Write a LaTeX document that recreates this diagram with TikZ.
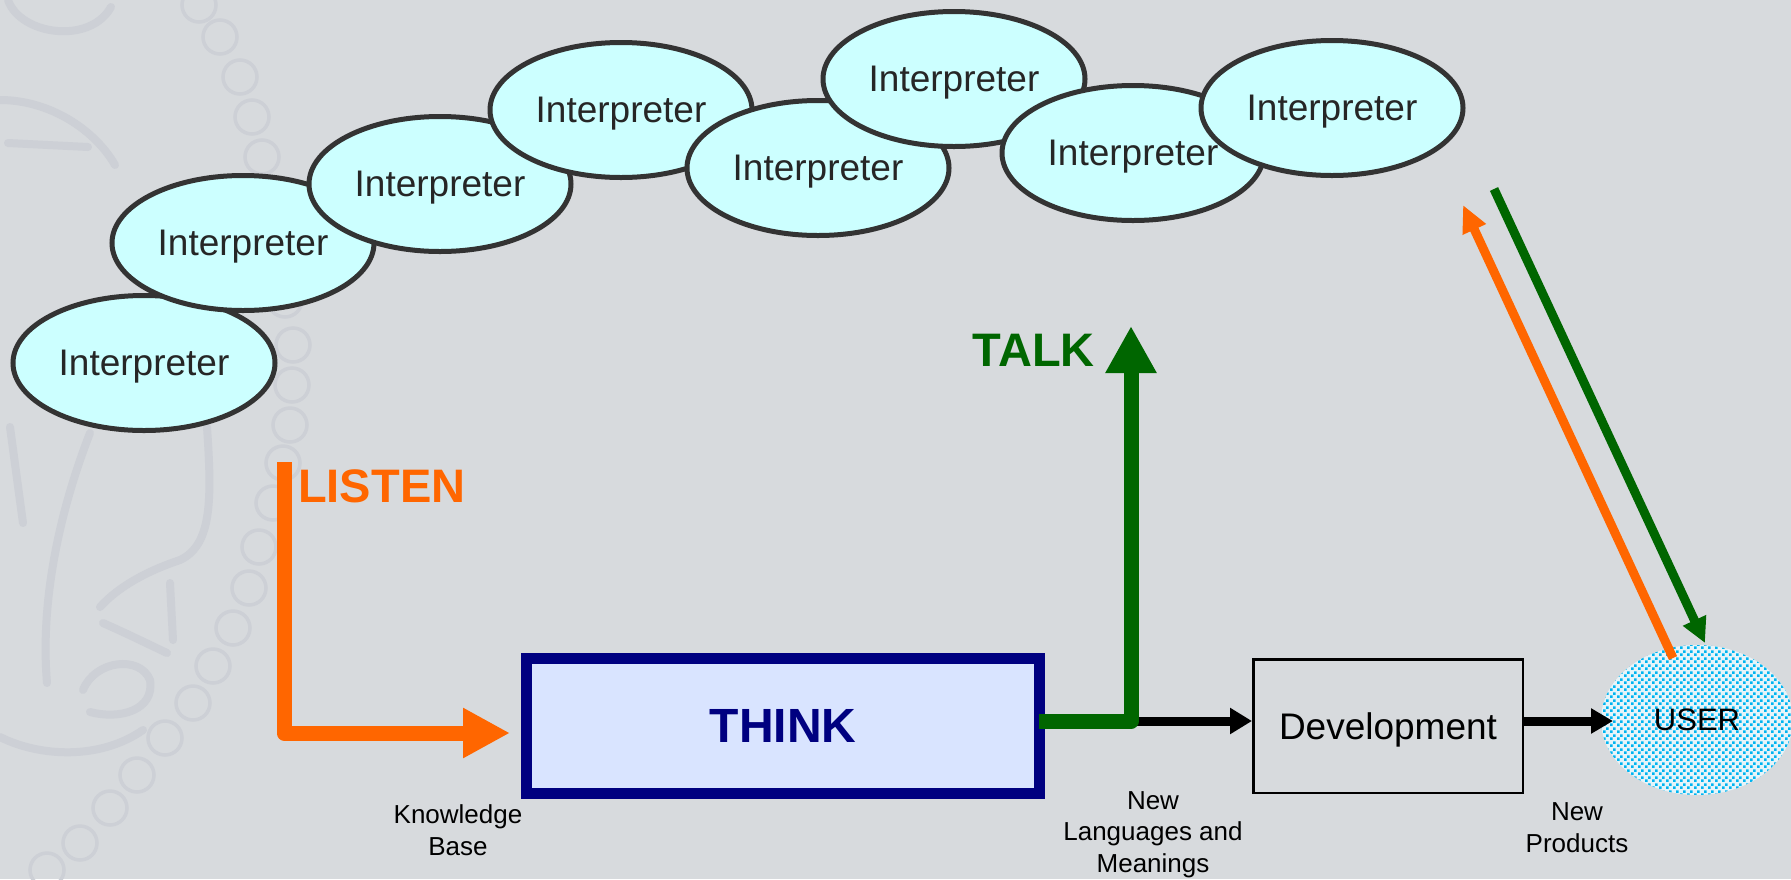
\documentclass[tikz,border=0pt]{standalone}
\usepackage{fontspec}
\setmainfont{Liberation Sans}
\usetikzlibrary{arrows.meta,patterns,shapes.geometric}
\definecolor{bg}{HTML}{D7DADD}
\definecolor{wm}{HTML}{CDD0D6}
\definecolor{ellfill}{HTML}{CCFFFF}
\definecolor{ellline}{HTML}{333333}
\definecolor{thinkfill}{HTML}{D9E4FF}
\definecolor{navy}{HTML}{000080}
\definecolor{orng}{HTML}{FF6600}
\definecolor{grn}{HTML}{006600}
\definecolor{userbg}{HTML}{E6F4F9}
\definecolor{userdot}{HTML}{00B4F0}
\pgfdeclarepatternformonly{userdots}{\pgfqpoint{0pt}{0pt}}{\pgfqpoint{7pt}{7pt}}{\pgfqpoint{7pt}{7pt}}{%
  \pgfpathrectangle{\pgfqpoint{0pt}{0pt}}{\pgfqpoint{3pt}{3pt}}%
  \pgfpathrectangle{\pgfqpoint{3.5pt}{3.5pt}}{\pgfqpoint{3pt}{3pt}}%
  \pgfusepath{fill}}
\begin{document}
\begin{tikzpicture}[x=1pt,y=-1pt,
  interp/.style={ellipse, draw=ellline, line width=5pt, fill=ellfill,
    minimum width=262pt, minimum height=135pt, inner sep=0pt,
    text=black!85, font=\fontsize{37}{40}\selectfont, text depth=0pt},
  wmchain/.style={draw=wm, line width=3.5pt},
  wmhand/.style={draw=wm, line width=8pt, line cap=round},
  small/.style={align=center, inner sep=0pt, font=\fontsize{26}{31.5}\selectfont, anchor=base},
  bigword/.style={inner sep=0pt, font=\fontsize{47}{50}\selectfont\bfseries}]
\useasboundingbox (0,0) rectangle (1791,879);
\fill[bg] (0,0) rectangle (1791,879);
% watermark
\foreach \p in {(47,870),(80,843),(110,808),(137,775),(165,738),(193,703),(213,666),(233,628),(249,588),(259,547),(273,503),(283,463),(290,425),(292,385),(293,345),(285,300),(275,250),(268,200),(262,157),(252,117),(240,77),(220,37),(199,5)}
  \draw[wmchain] \p circle[radius=17];
\draw[wmhand] (47,683) .. controls (40,600) and (60,510) .. (90,433);
\draw[wmhand] (23,523) -- (10,427);
\draw[wmhand] (207,427) .. controls (212,500) and (212,545) .. (180,560) .. controls (150,570) and (120,585) .. (100,607);
\draw[wmhand] (103,623) .. controls (130,635) and (150,645) .. (167,653);
\draw[wmhand] (170,583) -- (173,640);
\draw[wmhand] (83,690) .. controls (95,660) and (140,655) .. (150,680) .. controls (155,710) and (120,720) .. (90,712);
\draw[wmhand] (0,737) .. controls (40,757) and (100,760) .. (143,730);
\draw[wmhand] (8,0) .. controls (20,35) and (90,45) .. (111,7);
\draw[wmhand] (0,100) .. controls (50,100) and (95,130) .. (115,165);
\draw[wmhand] (8,143) -- (88,147);
% interpreters
\node[interp] (e1) at (144,363) {Interpreter};
\node[interp] (e2) at (243,243) {Interpreter};
\node[interp] (e3) at (440,184) {Interpreter};
\node[interp] (e4) at (621,110) {Interpreter};
\node[interp] (e5) at (818,168) {Interpreter};
\node[interp] (e6) at (954,79) {Interpreter};
\node[interp] (e7) at (1133,153) {Interpreter};
\node[interp] (e8) at (1332,108) {Interpreter};
% boxes
\node[draw=navy, line width=11pt, fill=thinkfill, minimum width=513pt, minimum height=135pt,
      inner sep=0pt, text depth=0pt, text=navy, font=\fontsize{48}{50}\selectfont\bfseries]
      (think) at (783,726) {THINK};
\node[draw=black, line width=2.5pt, fill=bg, minimum width=269.5pt, minimum height=133.5pt,
      inner sep=0pt, text depth=0pt, font=\fontsize{37}{40}\selectfont]
      (dev) at (1388,726) {Development};
\node[ellipse, fill=userbg, postaction={pattern=userdots, pattern color=userdot},
      minimum width=192pt, minimum height=150pt, inner sep=0pt, text depth=0pt,
      font=\fontsize{31}{34}\selectfont] (user) at (1697,720) {USER};
% connectors
\coordinate (listentop) at (284,462);
\coordinate (listentip) at (510,733);
\draw[orng, line width=15pt, line join=round, -{Triangle[length=47pt,width=47pt]}]
  (listentop) |- (listentip);
\coordinate (talkcorner) at (1131,721);
\coordinate (talktip) at (1131,326);
\coordinate (userin) at (1613,721);
\draw[line width=9pt, -{Triangle[length=22pt,width=25pt]}] (talkcorner) -- (dev.west |- talkcorner);
\draw[grn, line width=15pt, line join=round, -{Triangle[length=47pt,width=48pt]}]
  ([xshift=-6pt]think.east |- talkcorner) -| (talktip);
\draw[line width=9pt, -{Triangle[length=22pt,width=24pt]}] (dev.east |- userin) -- (userin);
\coordinate (uo) at (1673,658);
\coordinate (otip) at (1463,205);
\coordinate (gstart) at (1494,189);
\coordinate (gtip) at (1705,643);
\draw[orng, line width=9pt, -{Triangle[length=27pt,width=24pt]}] (uo) -- (otip);
\draw[grn, line width=9pt, -{Triangle[length=25pt,width=24pt]}] (gstart) -- (gtip);
% labels
\node[bigword, text=orng, anchor=base west] (listen) at (298,502) {LISTEN};
\node[bigword, text=grn, anchor=base east] (talk) at (1095,366) {TALK};
\node[small] (kb) at (458,855) {Knowledge\\Base};
\node[small] (nlm) at (1153,872) {New\\Languages and\\Meanings};
\node[small] (np) at (1577,852) {New\\Products};
\end{tikzpicture}
\end{document}
